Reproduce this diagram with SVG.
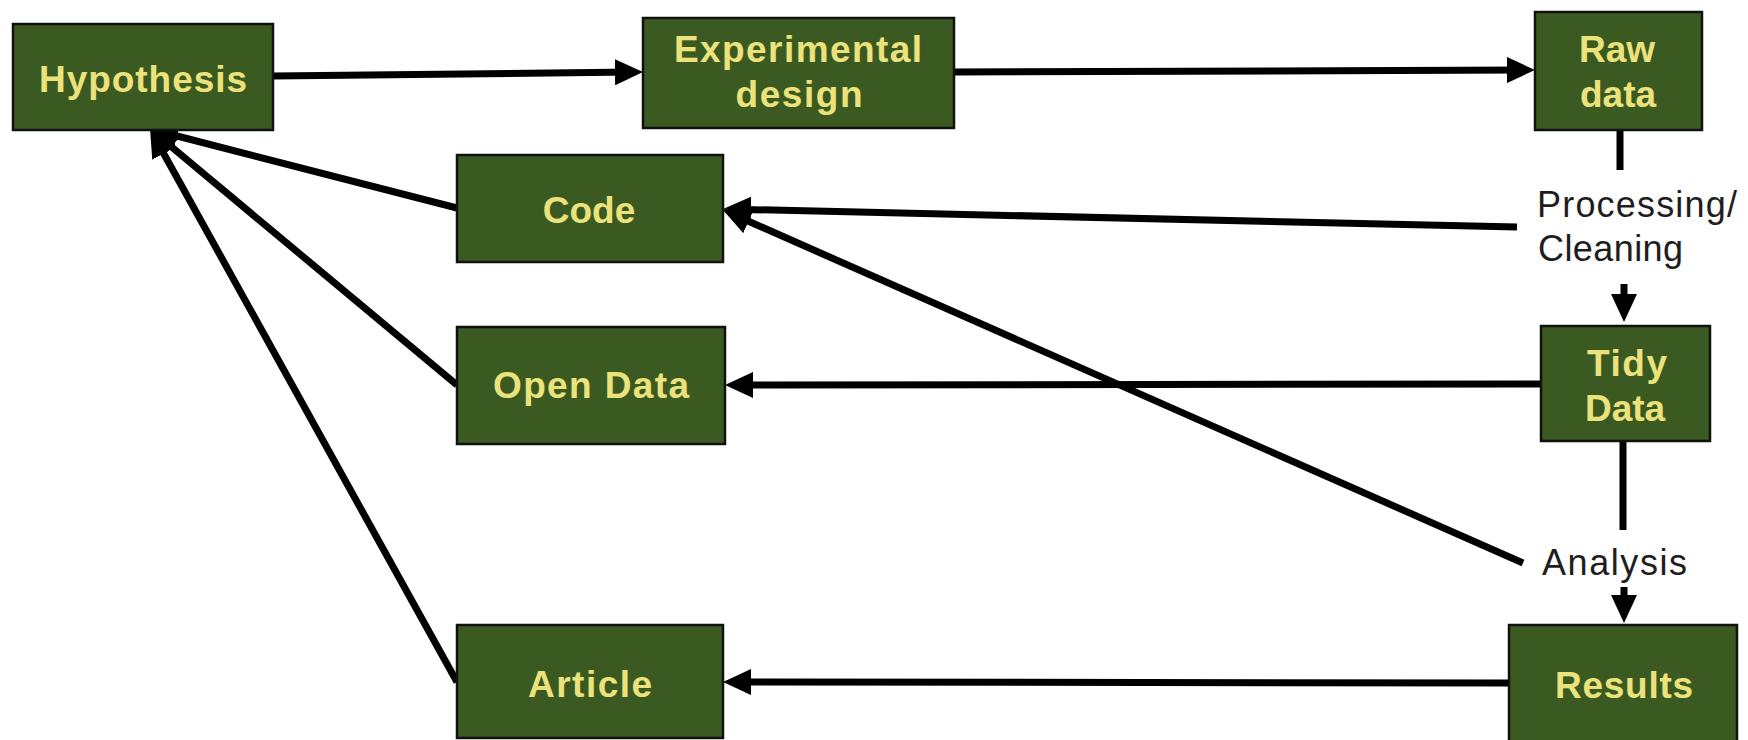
<svg xmlns="http://www.w3.org/2000/svg" width="1748" height="740" viewBox="0 0 1748 740">
  <style>
    .box { fill: #3b5a22; stroke: #111; stroke-width: 2.5; }
    .lbl { font-family: "Liberation Sans", Arial, sans-serif; font-weight: bold; font-size: 37px; fill: #ece27c; text-anchor: middle; }
    .note { font-family: "Liberation Sans", Arial, sans-serif; font-size: 36px; fill: #1e1e1e; }
    .wire { fill: none; stroke: #000; stroke-width: 7; }
  </style>
  <defs>
    <marker id="head" markerUnits="userSpaceOnUse" markerWidth="28" markerHeight="26" viewBox="0 0 28 26" refX="18" refY="13" orient="auto">
      <path d="M0,0 L28,13 L0,26 Z" fill="#000"/>
    </marker>
  </defs>
  <rect width="1748" height="740" fill="#fff"/>

  <!-- connectors -->
  <g id="connectors">
    <path class="wire" d="M273,76 L633,72.1" marker-end="url(#head)"/>
    <path class="wire" d="M954,72 L1525,70" marker-end="url(#head)"/>
    <path class="wire" d="M1620,130 L1620,170"/>
    <path class="wire" d="M1624,284 L1624,312" marker-end="url(#head)"/>
    <path class="wire" d="M1623,441 L1623,530"/>
    <path class="wire" d="M1624,587 L1624,613" marker-end="url(#head)"/>
    <path class="wire" d="M1517,227 L733,209.2" marker-end="url(#head)"/>
    <path class="wire" d="M1523,563 L732.1,214" marker-end="url(#head)"/>
    <path class="wire" d="M1541,384 L735,385" marker-end="url(#head)"/>
    <path class="wire" d="M1509,683 L733,682" marker-end="url(#head)"/>
    <path class="wire" d="M457,208 L159.7,131.5" marker-end="url(#head)"/>
    <path class="wire" d="M457,385 L157.7,135.4" marker-end="url(#head)"/>
    <path class="wire" d="M457,682 L154.9,137.7" marker-end="url(#head)"/>
  </g>

  <g id="hypothesis">
    <rect class="box" x="13" y="24" width="260" height="106"/>
    <text class="lbl" x="143" y="92" textLength="208" lengthAdjust="spacing">Hypothesis</text>
  </g>
  <g id="experimental-design">
    <rect class="box" x="643" y="18" width="311" height="110"/>
    <text class="lbl" x="798" y="62" textLength="248" lengthAdjust="spacing">Experimental</text>
    <text class="lbl" x="799" y="107" textLength="127" lengthAdjust="spacing">design</text>
  </g>
  <g id="raw-data">
    <rect class="box" x="1535" y="12" width="167" height="118"/>
    <text class="lbl" x="1617" y="62">Raw</text>
    <text class="lbl" x="1618" y="107">data</text>
  </g>
  <g id="code">
    <rect class="box" x="457" y="155" width="266" height="107"/>
    <text class="lbl" x="589" y="223">Code</text>
  </g>
  <g id="open-data">
    <rect class="box" x="457" y="327" width="268" height="117"/>
    <text class="lbl" x="591" y="398" textLength="196" lengthAdjust="spacing">Open Data</text>
  </g>
  <g id="tidy-data">
    <rect class="box" x="1541" y="326" width="169" height="115"/>
    <text class="lbl" x="1627" y="376" textLength="80" lengthAdjust="spacing">Tidy</text>
    <text class="lbl" x="1625" y="421" textLength="80" lengthAdjust="spacing">Data</text>
  </g>
  <g id="article">
    <rect class="box" x="457" y="625" width="266" height="113"/>
    <text class="lbl" x="590" y="697" textLength="124" lengthAdjust="spacing">Article</text>
  </g>
  <g id="results">
    <rect class="box" x="1509" y="625" width="228" height="118"/>
    <text class="lbl" x="1624" y="698" textLength="138" lengthAdjust="spacing">Results</text>
  </g>

  <g id="processing-cleaning">
    <text class="note" x="1537" y="217" textLength="200" lengthAdjust="spacing">Processing/</text>
    <text class="note" x="1538" y="261" textLength="145" lengthAdjust="spacing">Cleaning</text>
  </g>
  <g id="analysis">
    <text class="note" x="1542" y="575" textLength="145" lengthAdjust="spacing">Analysis</text>
  </g>
</svg>
